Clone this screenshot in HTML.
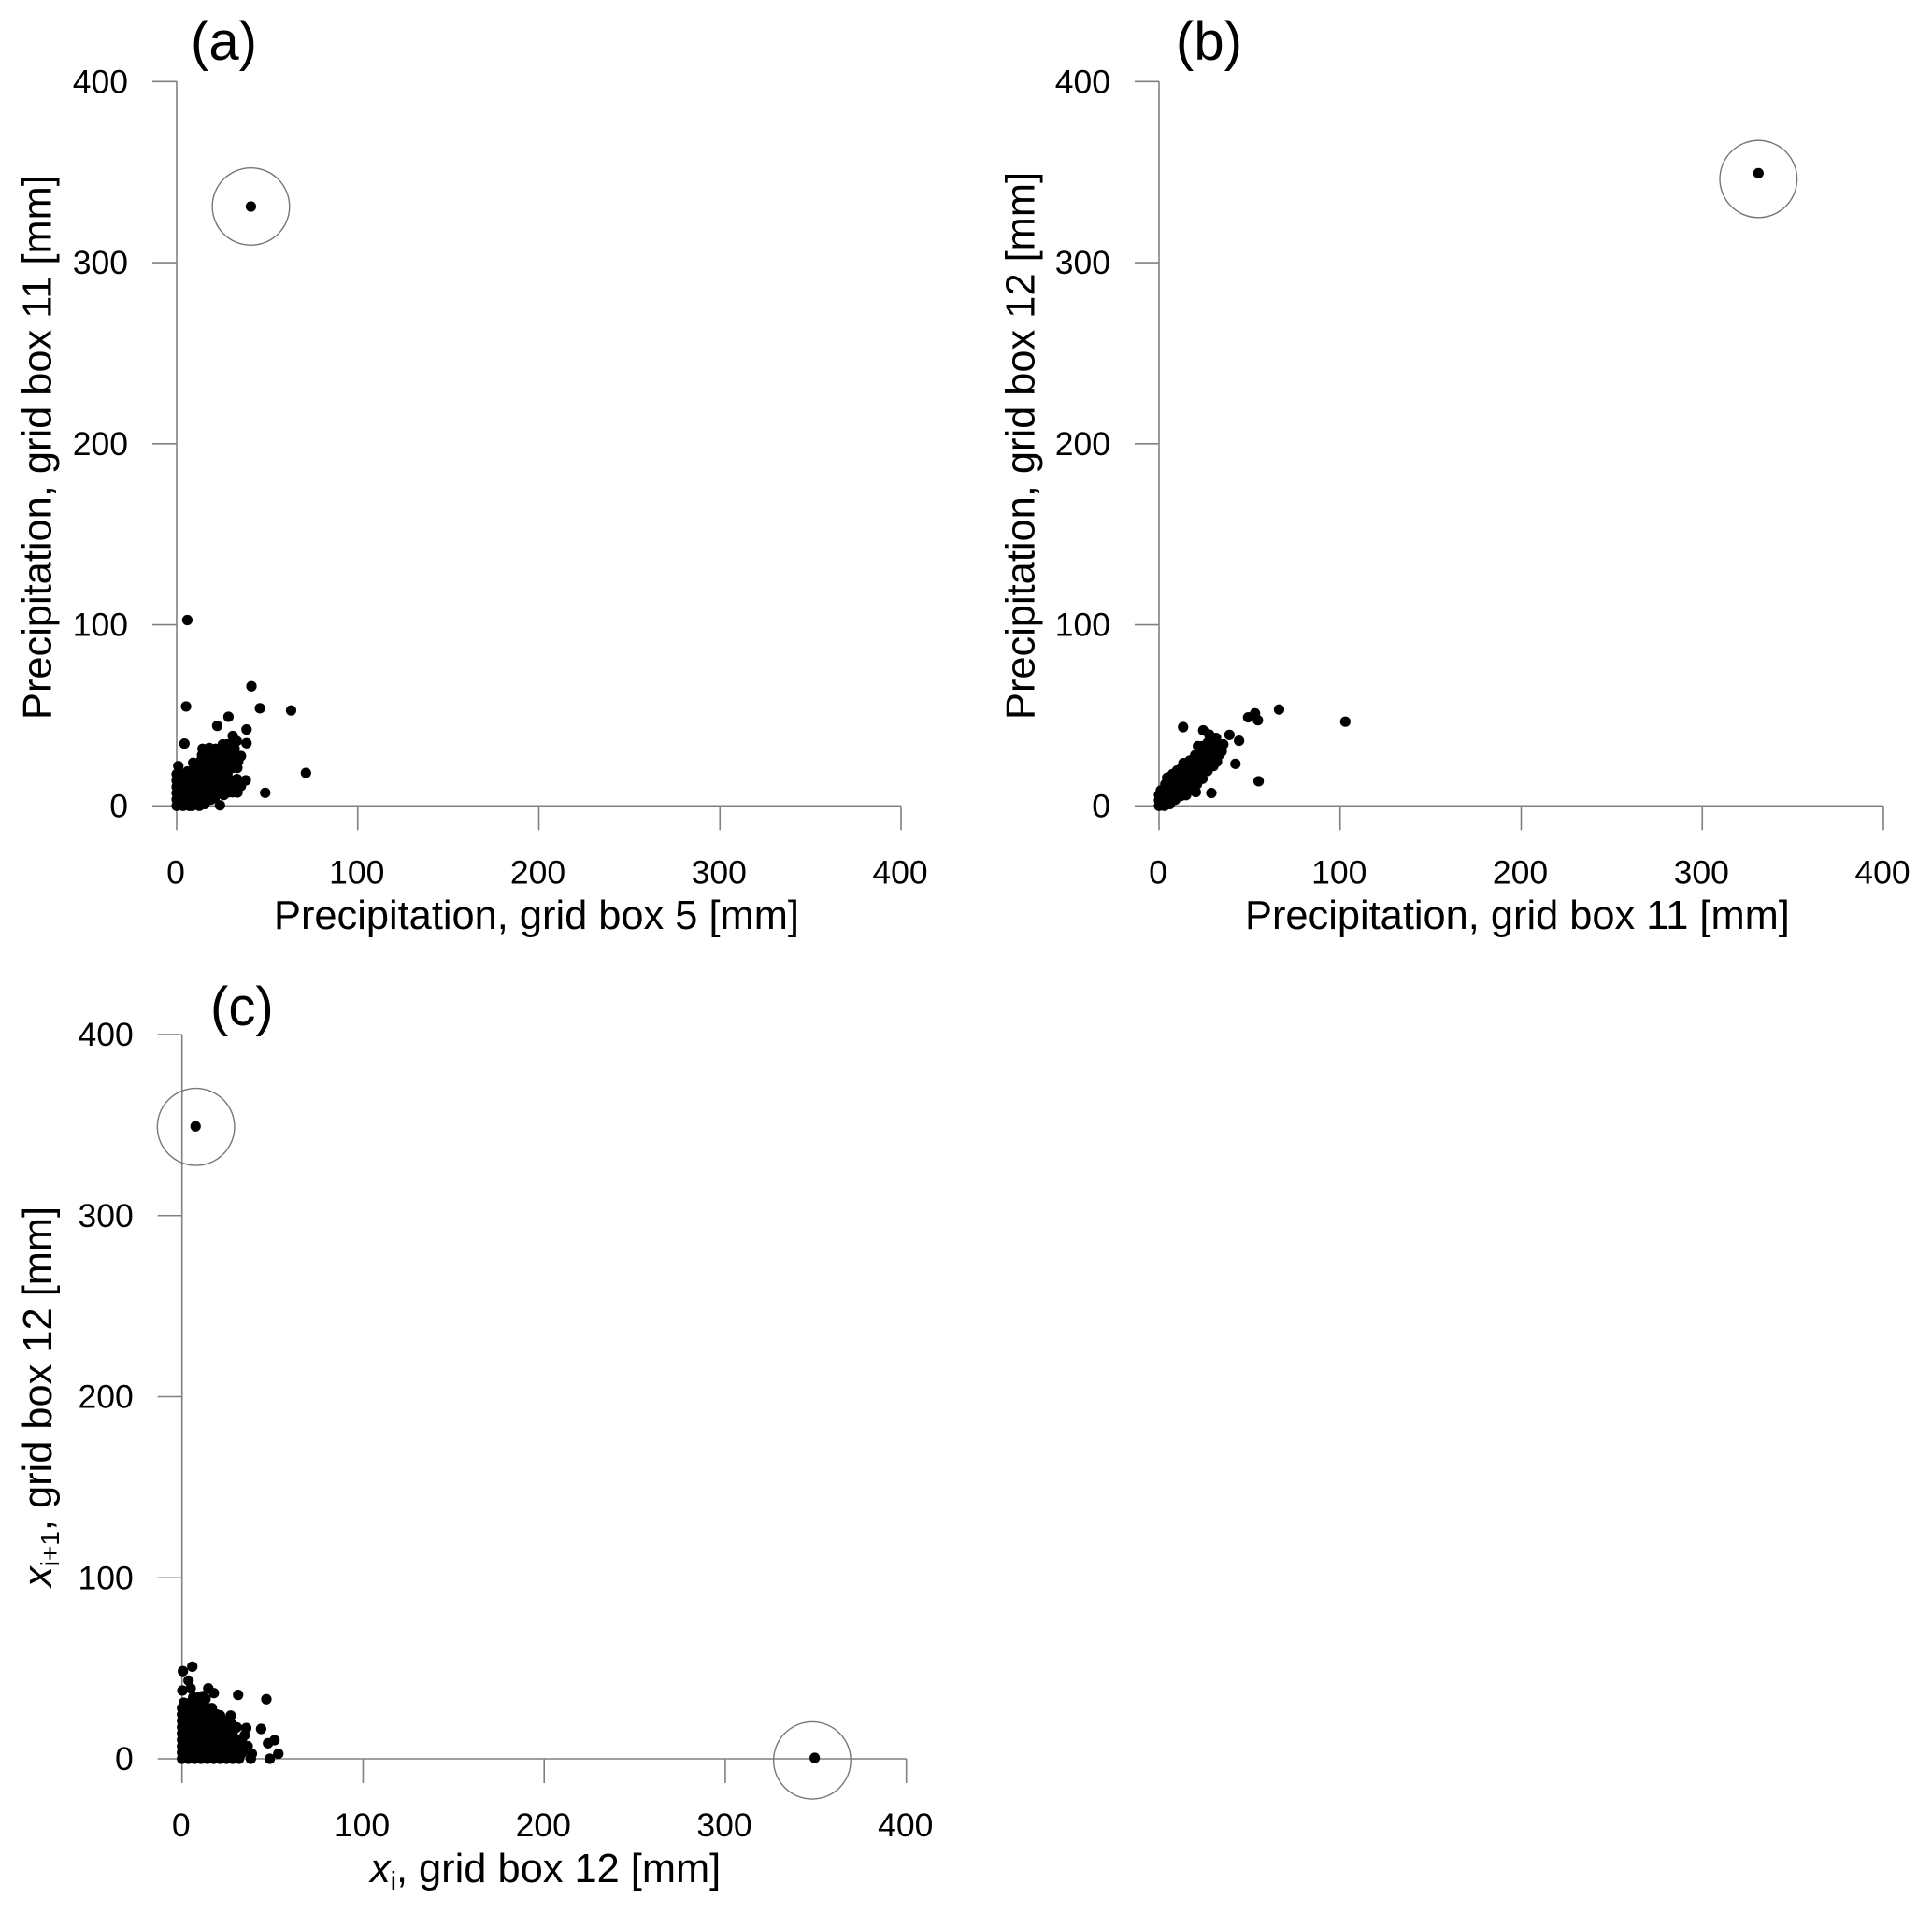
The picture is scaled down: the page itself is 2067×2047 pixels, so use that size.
<!DOCTYPE html>
<html lang="en">
<head>
<meta charset="utf-8">
<title>Precipitation scatter plots</title>
<style>
html,body{margin:0;padding:0;background:#fff;}
svg{display:block;}
text{font-family:"Liberation Sans",Arial,sans-serif;fill:#000;}
.tick{font-size:35.5px;}
.title{font-size:43.4px;}
.letter{font-size:58px;}
.sub{font-size:28px;}
</style>
</head>
<body>
<svg id="chart" width="2067" height="2047" viewBox="0 0 2067 2047" xmlns="http://www.w3.org/2000/svg">
  <rect x="0" y="0" width="2067" height="2047" fill="#ffffff"/>
  <g id="panel-a"></g>
  <g id="panel-b"></g>
  <g id="panel-c"></g>

  <text class="letter" x="204" y="64">(a)</text>
  <text class="letter" x="1258" y="64">(b)</text>
  <text class="letter" x="225" y="1097">(c)</text>

  <text class="title" x="293" y="994">Precipitation, grid box 5 [mm]</text>
  <text class="title" transform="translate(54.5 770) rotate(-90)">Precipitation, grid box 11 [mm]</text>
  <text class="title" x="1332" y="994">Precipitation, grid box 11 [mm]</text>
  <text class="title" transform="translate(1106.5 770) rotate(-90)">Precipitation, grid box 12 [mm]</text>
  <text class="title" x="396" y="2014"><tspan font-style="italic">x</tspan><tspan class="sub" dy="8">i</tspan><tspan dy="-8">, grid box 12 [mm]</tspan></text>
  <text class="title" transform="translate(55 1698) rotate(-90)"><tspan font-style="italic">x</tspan><tspan class="sub" dy="8">i+1</tspan><tspan dy="-8">, grid box 12 [mm]</tspan></text>
</svg>
<script>
var tickValues = [0, 100, 200, 300, 400];
var tickLabels = ["0", "100", "200", "300", "400"];

var panelAX = [
  15.5,21,26,31,35.5,8,
  0,3.5,7,8.5,12.5,
  0,3.5,7,10.5,14,17,19,
  0,3.5,7,10.5,14,17.5,21,24,28.4,33.6,
  0,3.5,7,10.5,14,17.5,21,24.5,28,31,
  0,3.5,7,10.5,14,17.5,21,24.5,28,31,33.4,38.2,
  0,3.5,7,10.5,14,17.5,21,24.5,28,
  0.9,6,9.1,10.5,14,17.5,21,24.5,28,31,33.5,
  13,16.5,20,23.5,27,30.5,34,
  14,17.5,21,24.5,28,31.5,35.5,
  14.3,18,21.5,25,28.5,32,
  25.5,28,
  5.9,41.3,5.2,46,63.2,28.6,22.4,38.6,4.3,31,33.2,38.6,71.4,48.9,23.9,
  41
];
var panelAY = [
  1,4.5,6,7.5,11,1,
  0,0,0,0,0,
  3.5,3.5,3.5,3.5,3.5,3.5,3.5,
  7,7,7,7,7,7,7,7,7.4,7.4,
  10.5,10.5,10.5,10.5,10.5,10.5,10.5,10.5,10.5,10.5,
  14,14,14,14,14,14,14,14,14,14,14.8,14.1,
  17.5,17.5,17.5,17.5,17.5,17.5,17.5,17.5,17.5,
  22,19,23.8,21,21,21,21,21,21,21,21,
  24.5,24.5,24.5,24.5,24.5,24.5,24.5,
  28,28,28,28,28,28,27.5,
  31.5,32,31.5,31.5,31.5,31.5,
  34,34,
  102.6,66.1,54.9,53.9,52.7,49.2,44.2,42.2,34.4,38.6,35.8,34.6,18.2,7.2,0.3,
  331
];

var panelBX = [
  7.5,10,4.5,17,20,24,30,30,9,14.5,21.5,
  0,0,0,1,3,3,3,3,3.5,6,6,6,6,6,
  9,9,9,9,9,12,12,12,12,12,12.5,13.5,
  15,15,15,15,15,16,18,18,18,18,18,18,20.3,
  21,21,21,21,21,21,24,24,24,24,24,24,26.8,
  27,27,27,27,27,30,30,30,30,32,33,33,33,31.5,35.5,34.6,
  102.9,66.3,53,49.2,54.6,13.3,24.4,38.9,44.2,42.2,55,28.9,21.5,27.7,
  331
];
var panelBY = [
  17.5,19.5,15.5,25,28,33,22,37,3.5,6,14.5,
  0,3,6,8.5,0,3,6,9,12,1,4,7,10,13.5,
  3.5,6.5,10,13,16,5.5,9,12,15,18,21,23.6,
  6,9.5,13,16,19,22,9,12,15,18,21,24,7.6,
  12,15,18,21,24,27,15,18,21,24,27,30,19.3,
  23,26,29,32,35,25,28,31,34,24.4,28,31,34,37.5,34,30,
  46.5,53.2,51.1,48.9,47.3,43.5,41.7,39.2,36,23.2,13.6,7.1,33,39.4,
  349.4
];

var panelCX = [
  24.5,27,28,13,16.5,19,21,33,35,33,
  0,3.5,7,10.5,14,17.5,21,24.5,28,31.5,
  0,3.5,7,10.5,14,17.5,21,24.5,28,31.5,
  0,3.5,7,10.5,14,17.5,21,24.5,28,31.5,34,
  0,3.5,7,10.5,14,17.5,21,24.5,28,31.5,
  0,3.5,7,10.5,14,17.5,21,24.5,28,
  0,3.5,7,10.5,14,17.5,21,24.5,30.3,
  0,3.5,7,10.5,14,17.5,21,
  0,3.5,7,10.5,14,17.5,
  0,3.5,7,10.5,14,
  1,4.5,8,11.5,
  6.2,9.5,11.4,
  5.7,0.5,3.6,0.2,4.8,14.5,17.6,31,46.6,43.7,35.5,34.6,51.1,47.5,53.2,48.5,38.6,38,26.9,36.3,
  7.5,349.4
];
var panelCY = [
  21,20,17.5,33,28,24.5,24,3,5.5,10,
  0,0,0,0,0,0,0,0,0,0,
  3.5,3.5,3.5,3.5,3.5,3.5,3.5,3.5,3.5,3.5,
  7,7,7,7,7,7,7,7,7,7,7,
  10.5,10.5,10.5,10.5,10.5,10.5,10.5,10.5,10.5,10.5,
  14,14,14,14,14,14,14,14,14,
  17.5,17.5,17.5,17.5,17.5,17.5,17.5,17.5,17.4,
  21,21,21,21,21,21,21,
  24.5,24.5,24.5,24.5,24.5,24.5,
  28,28,28,28,28,
  31,31,31,31,
  34,34,34.6,
  50.9,48.4,43.2,37.7,38.9,38.9,36.3,35.3,32.9,16.5,17,13,10.3,8.6,2.8,0,2.8,0,23.9,7,
  349.3,0.5
];

var ringAX = [41];
var ringAY = [331];
var ringBX = [331];
var ringBY = [346.2];
var ringCX = [7.7, 348];
var ringCY = [349, -0.9];

var SVG_NS = "http://www.w3.org/2000/svg";
var PX_PER_UNIT = 1.9375;
var TICK_LEN = 26;
var DOT_RADIUS = 5.6;
var RING_RADIUS = 41.3;
var AXIS_COLOR = "#808080";

function scaleX(origin, v) { return origin + v * PX_PER_UNIT; }
function scaleY(origin, v) { return origin - v * PX_PER_UNIT; }

function addLine(parent, name, x1, y1, x2, y2) {
  var el = document.createElementNS(SVG_NS, "line");
  el.setAttribute("x1", x1);
  el.setAttribute("y1", y1);
  el.setAttribute("x2", x2);
  el.setAttribute("y2", y2);
  el.setAttribute("stroke", AXIS_COLOR);
  el.setAttribute("stroke-width", "1.6");
  
  
  parent.appendChild(el);
}

function addTickLabel(parent, name, x, y, anchor, label) {
  var el = document.createElementNS(SVG_NS, "text");
  el.setAttribute("class", "tick");
  el.setAttribute("x", x);
  el.setAttribute("y", y);
  el.setAttribute("text-anchor", anchor);
  el.textContent = label;
  
  
  parent.appendChild(el);
}

function drawPanel(id, x0, y0, xs, ys, ringXs, ringYs) {
  var g = document.getElementById(id);
  var i;
  addLine(g, "x-axis-line", scaleX(x0, 0) - TICK_LEN, y0, scaleX(x0, tickValues[tickValues.length - 1]), y0);
  addLine(g, "y-axis-line", x0, scaleY(y0, tickValues[tickValues.length - 1]), x0, y0 + TICK_LEN);
  for (i = 0; i < tickValues.length; i++) {
    var tx = scaleX(x0, tickValues[i]);
    var ty = scaleY(y0, tickValues[i]);
    if (i > 0) {
      addLine(g, "x-tick", tx, y0, tx, y0 + TICK_LEN);
      addLine(g, "y-tick", x0 - TICK_LEN, ty, x0, ty);
    }
    addTickLabel(g, "x-tick-label", tx - 1, y0 + 83, "middle", tickLabels[i]);
    addTickLabel(g, "y-tick-label", x0 - 52, ty + 12, "end", tickLabels[i]);
  }
  for (i = 0; i < ringXs.length; i++) {
    var ring = document.createElementNS(SVG_NS, "circle");
    ring.setAttribute("cx", scaleX(x0, ringXs[i]));
    ring.setAttribute("cy", scaleY(y0, ringYs[i]));
    ring.setAttribute("r", RING_RADIUS);
    ring.setAttribute("fill", "none");
    ring.setAttribute("stroke", "#777777");
    ring.setAttribute("stroke-width", "1.4");
    
    
    g.appendChild(ring);
  }
  for (i = 0; i < xs.length; i++) {
    var dot = document.createElementNS(SVG_NS, "circle");
    dot.setAttribute("cx", scaleX(x0, xs[i]));
    dot.setAttribute("cy", scaleY(y0, ys[i]));
    dot.setAttribute("r", DOT_RADIUS);
    dot.setAttribute("fill", "#000000");
    
    
    g.appendChild(dot);
  }
}

drawPanel("panel-a", 189, 862.3, panelAX, panelAY, ringAX, ringAY);
drawPanel("panel-b", 1240, 862.3, panelBX, panelBY, ringBX, ringBY);
drawPanel("panel-c", 194.7, 1882, panelCX, panelCY, ringCX, ringCY);
</script>
</body>
</html>
